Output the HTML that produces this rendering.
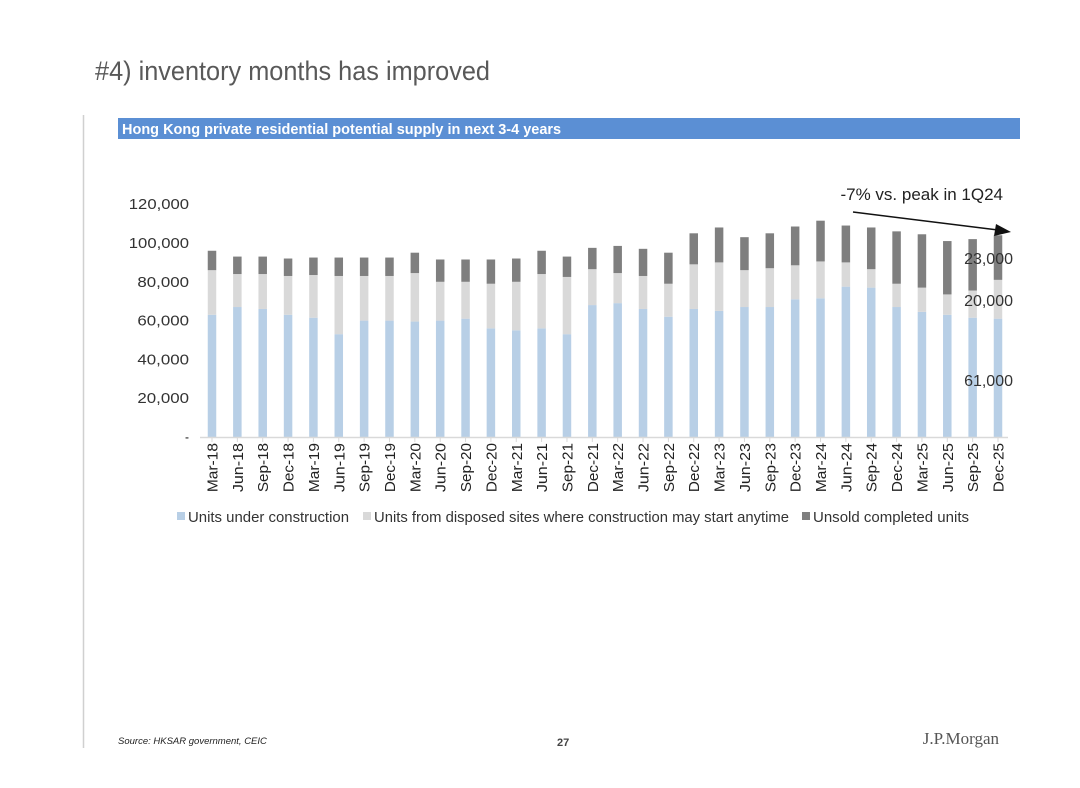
<!DOCTYPE html>
<html><head><meta charset="utf-8">
<style>
body{margin:0;background:#fff;}
#wrap{position:relative;width:1080px;height:788px;overflow:hidden;font-family:"Liberation Sans",sans-serif;}
svg text{font-family:"Liberation Sans",sans-serif;}
</style></head>
<body>
<div id="wrap">
<svg id="chart" width="1080" height="788">
  <text x="95" y="80" font-size="27" fill="#595959" textLength="395" lengthAdjust="spacingAndGlyphs">#4) inventory months has improved</text>
  <line x1="83.5" y1="115" x2="83.5" y2="748" stroke="#d0d0d0" stroke-width="1.5"/>
  <rect x="118" y="118" width="902" height="21" fill="#5b8fd4"/>
  <text x="122" y="134" font-size="14.5" font-weight="bold" fill="#fff">Hong Kong private residential potential supply in next 3-4 years</text>
  <g id="yaxis"></g>
  <g id="bars"></g>
  <g id="xaxis"></g>
  <text x="1003" y="200" font-size="17" fill="#222" text-anchor="end">-7% vs. peak in 1Q24</text>
  <line x1="853" y1="212" x2="998" y2="230" stroke="#111" stroke-width="1.5"/>
  <polygon points="1011,232 996,224 994,236" fill="#111"/>
  <text x="1013" y="264" font-size="16" fill="#333" text-anchor="end">23,000</text>
  <text x="1013" y="306" font-size="16" fill="#333" text-anchor="end">20,000</text>
  <text x="1013" y="386" font-size="16" fill="#333" text-anchor="end">61,000</text>
  <g>
    <rect x="177" y="512" width="8" height="8" fill="#b8cfe6"/>
    <text x="188" y="522" font-size="15" fill="#333" textLength="161" lengthAdjust="spacingAndGlyphs">Units under construction</text>
    <rect x="363" y="512" width="8" height="8" fill="#d9d9d9"/>
    <text x="374" y="522" font-size="15" fill="#333" textLength="415" lengthAdjust="spacingAndGlyphs">Units from disposed sites where construction may start anytime</text>
    <rect x="802" y="512" width="8" height="8" fill="#7f7f7f"/>
    <text x="813" y="522" font-size="15" fill="#333" textLength="156" lengthAdjust="spacingAndGlyphs">Unsold completed units</text>
  </g>
  <text x="118" y="744" font-size="9.5" font-style="italic" fill="#222">Source: HKSAR government, CEIC</text>
  <text x="557" y="746" font-size="11" font-weight="bold" fill="#444">27</text>
  <text x="999" y="744" font-size="17" fill="#555" text-anchor="end" style="font-family:'Liberation Serif',serif">J.P.Morgan</text>
</svg>
</div>
<script>
const categories=["Mar-18","Jun-18","Sep-18","Dec-18","Mar-19","Jun-19","Sep-19","Dec-19","Mar-20","Jun-20","Sep-20","Dec-20","Mar-21","Jun-21","Sep-21","Dec-21","Mar-22","Jun-22","Sep-22","Dec-22","Mar-23","Jun-23","Sep-23","Dec-23","Mar-24","Jun-24","Sep-24","Dec-24","Mar-25","Jun-25","Sep-25","Dec-25"];
const underConstruction=[63,67,66,63,61.5,53,60,60,59.5,60,61,56,55,56,53,68,69,66,62,66,65,67,67,71,71.5,77.5,77,67,64.5,63,61.5,61];
const disposedSites=[23,17,18,20,22,30,23,23,25,20,19,23,25,28,29.5,18.5,15.5,17,17,23,25,19,20,17.5,19,12.5,9.5,12,12.5,10.5,14,20];
const unsoldCompleted=[10,9,9,9,9,9.5,9.5,9.5,10.5,11.5,11.5,12.5,12,12,10.5,11,14,14,16,16,18,17,18,20,21,19,21.5,27,27.5,27.5,26.5,23];
const yTicks=[0,20,40,60,80,100,120];
const yTickLabels=["-","20,000","40,000","60,000","80,000","100,000","120,000"];

const NS="http://www.w3.org/2000/svg";
const y0=437, pxPerK=1.94, x0=212, step=(998-212)/31, bw=8.5;
const yS=v=>y0-v*pxPerK;
const xS=i=>x0+i*step;
function mk(t,a,p){const e=document.createElementNS(NS,t);for(const k in a)e.setAttribute(k,a[k]);p.appendChild(e);return e;}
const gy=document.getElementById('yaxis'),gb=document.getElementById('bars'),gx=document.getElementById('xaxis');
yTicks.forEach((v,i)=>{
  const t=mk('text',{x:189,y:yS(v)+5,'font-size':15,fill:'#333','text-anchor':'end',textLength:yTickLabels[i].length>1?yTickLabels[i].length*8.6:4,lengthAdjust:'spacingAndGlyphs'},gy);
  t.textContent=yTickLabels[i];
  
  
});
const ax=mk('line',{x1:200,y1:y0+0.5,x2:1008,y2:y0+0.5,stroke:'#d9d9d9','stroke-width':1.5},gx);


categories.forEach((c,i)=>{
  const x=xS(i);
  const tk=mk('line',{x1:x,y1:y0,x2:x,y2:y0+5,stroke:'#d9d9d9'},gx);
  
  
  const t=mk('text',{x:0,y:0,'font-size':15,fill:'#222','text-anchor':'end',transform:`translate(${x+5.5},${y0+6}) rotate(-90)`,textLength:c.length*8.2,lengthAdjust:'spacingAndGlyphs'},gx);
  t.textContent=c;
  
  
  let base=0;
  [[underConstruction[i],'#b8cfe6','bar-under-construction'],[disposedSites[i],'#d9d9d9','bar-disposed-sites'],[unsoldCompleted[i],'#7f7f7f','bar-unsold-completed']].forEach(([v,col,nm])=>{
    const r=mk('rect',{x:x-bw/2,y:yS(base+v),width:bw,height:v*pxPerK,fill:col},gb);
    
    
    base+=v;
  });
});
</script>
</body></html>
